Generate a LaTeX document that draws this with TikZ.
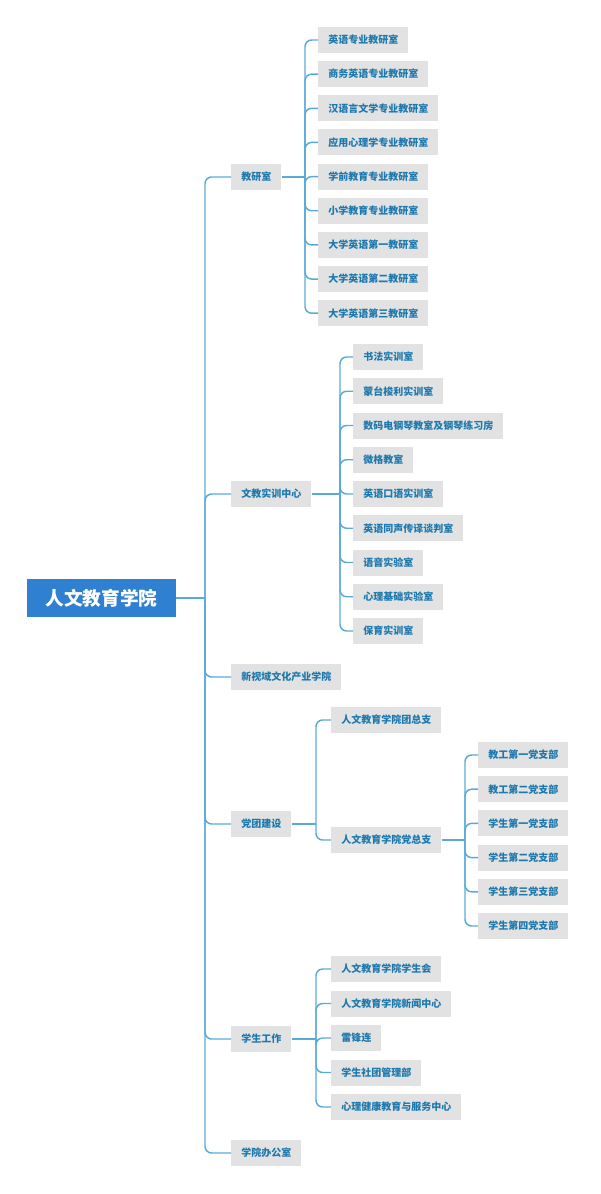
\documentclass[tikz,border=0pt]{standalone}
\usepackage{fontspec}
\setmainfont{Noto Sans CJK SC}
\usetikzlibrary{positioning}
\definecolor{rootblue}{HTML}{2F80D1}
\definecolor{linkblue}{HTML}{5AAAD8}
\definecolor{textblue}{HTML}{1C78AD}
\definecolor{boxgray}{HTML}{E2E2E2}
\tikzset{
  root node/.style={fill=rootblue, text=white, font=\fontsize{14}{16}\selectfont\bfseries,
    minimum height=28pt, minimum width=112pt, inner sep=0pt},
  item node/.style={fill=boxgray, text=textblue, font=\fontsize{7.5}{9}\selectfont\bfseries,
    anchor=west, minimum height=19.5pt, inner xsep=7.5pt, inner ysep=0pt},
  link/.style={draw=linkblue, line width=1.1pt, rounded corners=5pt}
}
\begin{document}
\begin{tikzpicture}[x=0.75pt,y=-0.75pt]
  \useasboundingbox (0,0) rectangle (600,1194);

  \node[root node] (root) at (101.5,598) {人文教育学院};

  % first level
  \node[item node] (jys) at (231,177) {教研室};
  \node[item node] (wjsx) at (231,494) {文教实训中心};
  \node[item node] (xsy) at (231,677) {新视域文化产业学院};
  \node[item node] (dtjs) at (231,824) {党团建设};
  \node[item node] (xsgz) at (231,1039) {学生工作};
  \node[item node] (xybgs) at (231,1153) {学院办公室};

  \coordinate (trunk) at (205,598);
  \draw[link] (root.east) -- (trunk);
  \foreach \n in {jys,wjsx,xsy,dtjs,xsgz,xybgs}
    \draw[link] (trunk) |- (\n.west);

  % jiaoyanshi
  \foreach \t [count=\i] in {英语专业教研室,商务英语专业教研室,汉语言文学专业教研室,
      应用心理学专业教研室,学前教育专业教研室,小学教育专业教研室,
      大学英语第一教研室,大学英语第二教研室,大学英语第三教研室}
    \node[item node] (jys\i) at (318,{40+34.15*(\i-1)}) {\t};
  \coordinate (jysb) at (305,177);
  \draw[link] (jys.east) -- (jysb);
  \foreach \i in {1,...,9}
    \draw[link] (jysb) |- (jys\i.west);

  % shixun zhongxin
  \foreach \t [count=\i] in {书法实训室,蒙台梭利实训室,数码电钢琴教室及钢琴练习房,
      微格教室,英语口语实训室,英语同声传译谈判室,语音实验室,
      心理基础实验室,保育实训室}
    \node[item node] (wjsx\i) at (353,{357+34.25*(\i-1)}) {\t};
  \coordinate (wjsxb) at (340,494);
  \draw[link] (wjsx.east) -- (wjsxb);
  \foreach \i in {1,...,9}
    \draw[link] (wjsxb) |- (wjsx\i.west);

  % dangtuan
  \node[item node] (tzz) at (331,720) {人文教育学院团总支};
  \node[item node] (dzz) at (331,840) {人文教育学院党总支};
  \coordinate (dtjsb) at (316,824);
  \draw[link] (dtjs.east) -- (dtjsb);
  \foreach \n in {tzz,dzz}
    \draw[link] (dtjsb) |- (\n.west);

  \foreach \t [count=\i] in {教工第一党支部,教工第二党支部,学生第一党支部,
      学生第二党支部,学生第三党支部,学生第四党支部}
    \node[item node] (dzz\i) at (478,{755+34.2*(\i-1)}) {\t};
  \coordinate (dzzb) at (465,840);
  \draw[link] (dzz.east) -- (dzzb);
  \foreach \i in {1,...,6}
    \draw[link] (dzzb) |- (dzz\i.west);

  % xuesheng gongzuo
  \foreach \t [count=\i] in {人文教育学院学生会,人文教育学院新闻中心,雷锋连,
      学生社团管理部,心理健康教育与服务中心}
    \node[item node] (xsgz\i) at (331,{969+34.5*(\i-1)}) {\t};
  \coordinate (xsgzb) at (316,1039);
  \draw[link] (xsgz.east) -- (xsgzb);
  \foreach \i in {1,...,5}
    \draw[link] (xsgzb) |- (xsgz\i.west);
\end{tikzpicture}
\end{document}
